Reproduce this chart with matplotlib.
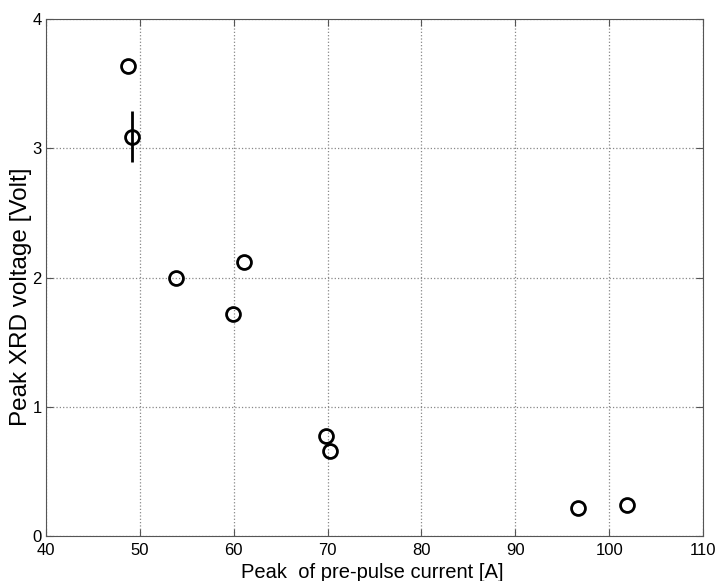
import matplotlib
matplotlib.use("Agg")
import matplotlib.pyplot as plt

plt.rcParams['font.family'] = ['Liberation Sans', 'DejaVu Sans']

# data
current = [48.7, 49.2, 53.9, 61.1, 59.9, 69.8, 70.3, 96.7, 101.9]
voltage = [3.64, 3.09, 2.00, 2.12, 1.72, 0.77, 0.66, 0.22, 0.24]
err_x = [49.2]
err_y = [3.09]
err_lo = [0.20]
err_hi = [0.20]

xticks = [40, 50, 60, 70, 80, 90, 100, 110]
yticks = [0, 1, 2, 3, 4]

fig = plt.figure(figsize=(7.17, 5.81), dpi=100)
ax = fig.add_axes([46/717, 1 - 536/581, (703-46)/717, (536-19)/581])

ax.errorbar(err_x, err_y, yerr=[err_lo, err_hi], fmt='none', ecolor='black',
            elinewidth=2, capsize=0, zorder=3)
ax.plot(current, voltage, 'o', mfc='none', mec='black', ms=10, mew=2, zorder=4)

ax.set_xlim(40, 110)
ax.set_ylim(0, 4)
ax.set_xticks(xticks)
ax.set_yticks(yticks)
ax.grid(True, color='#888888', linestyle=':', linewidth=0.9)
for s in ax.spines.values():
    s.set_color('#555555')
ax.tick_params(direction='in', top=True, right=True, labelsize=12, color='#555555',
               length=5)
ax.tick_params(axis='x', pad=5)
ax.tick_params(axis='y', pad=3)
ax.set_xlabel('Peak  of pre-pulse current [A]', fontsize=14.5)
ax.set_ylabel('Peak XRD voltage [Volt]', fontsize=17.5)
ax.xaxis.set_label_coords(0.497, -0.052)
ax.yaxis.set_label_coords(-0.021, 0.462)

fig.savefig('out.png', dpi=100)
